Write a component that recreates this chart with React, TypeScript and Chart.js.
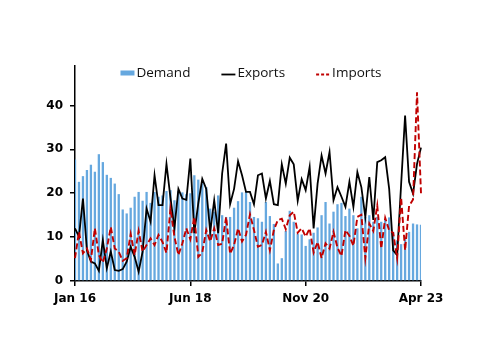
import React, { useEffect, useRef } from 'react';
import { Chart, registerables } from 'chart.js';

Chart.register(...registerables);

// ---- Data ----
const MONTH_NAMES = ['Jan', 'Feb', 'Mar', 'Apr', 'May', 'Jun', 'Jul', 'Aug', 'Sep', 'Oct', 'Nov', 'Dec'];
const START_YEAR = 2016;
const MONTH_COUNT = 88; // Jan 2016 .. Apr 2023

const categories: string[] = [];
for (let i = 0; i < MONTH_COUNT; i++) {
  const yr = START_YEAR + Math.floor(i / 12);
  categories.push(`${MONTH_NAMES[i % 12]} ${String(yr).slice(2)}`);
}

const xTickLabels = ['Jan 16', 'Jun 18', 'Nov 20', 'Apr 23'];
const yTickValues = [0, 10, 20, 30, 40];

const demand = [
  27.7, 22.6, 23.9, 25.3, 26.5, 24.9, 28.9, 27.1, 24.2, 23.5, 22.2, 19.8,
  16.3, 15.4, 16.7, 19.2, 20.3, 18.3, 20.3, 17.8, 20.3, 19.2, 19.5, 20.5,
  20.7, 18.4, 20.5, 20.2, 19.8, 20.0, 24.1, 23.1, 22.3, 21.4, 16.5, 15.8,
  19.5, 15.0, 14.6, 14.6, 16.7, 18.2, 20.2, 20.3, 18.0, 14.6, 14.3, 13.5,
  18.0, 14.8, 13.0, 4.0, 5.2, 11.4, 16.0, 13.5, 10.8, 10.6, 8.0, 9.5,
  11.0, 12.2, 15.0, 18.0, 13.1, 15.8, 17.5, 17.8, 14.8, 16.5, 15.0, 12.0,
  19.2, 14.6, 15.0, 13.5, 14.6, 13.5, 13.9, 14.5, 11.2, 9.3, 8.4, 10.1,
  11.2, 13.1, 12.9, 12.8,
];

const exportsData = [
  12.0, 10.1, 18.8, 7.0, 4.4, 4.0, 2.3, 9.3, 2.9, 6.7, 2.5, 2.3,
  2.7, 4.4, 7.8, 5.5, 2.1, 6.7, 16.5, 13.5, 24.1, 17.3, 17.3, 26.7,
  19.0, 12.0, 21.0, 18.8, 18.5, 27.9, 10.9, 17.7, 23.3, 21.0, 11.2, 18.4,
  10.9, 24.5, 31.3, 17.5, 21.0, 27.3, 24.1, 20.3, 20.3, 17.5, 24.1, 24.5,
  18.8, 22.8, 17.5, 17.3, 26.6, 22.2, 28.1, 26.6, 18.3, 23.2, 20.7, 26.0,
  12.0, 22.2, 28.6, 24.5, 29.4, 18.4, 21.4, 19.2, 16.9, 22.6, 16.9, 24.8,
  21.4, 14.6, 23.7, 13.9, 27.1, 27.5, 28.2, 21.0, 7.0, 5.9, 22.0, 37.7,
  22.6, 19.9, 26.7, 30.4,
];

const importsData = [
  5.2, 11.2, 6.3, 7.4, 4.8, 12.0, 5.9, 4.2, 7.4, 12.3, 7.4, 6.7,
  4.6, 5.2, 10.7, 5.9, 11.4, 6.7, 8.2, 9.7, 8.2, 10.5, 8.9, 6.4,
  16.5, 10.1, 5.9, 8.6, 12.0, 9.5, 14.6, 5.5, 6.5, 11.6, 9.0, 12.0,
  8.2, 8.5, 14.6, 6.2, 8.2, 12.0, 9.0, 10.5, 15.2, 11.6, 7.8, 8.2,
  11.2, 7.0, 11.6, 13.9, 14.2, 11.8, 15.0, 15.8, 11.0, 12.0, 10.1, 12.0,
  6.5, 8.9, 5.2, 8.6, 7.4, 11.2, 7.6, 5.7, 11.6, 10.3, 8.0, 14.6,
  15.1, 5.2, 13.1, 11.4, 17.2, 7.4, 14.4, 11.5, 11.0, 5.2, 19.0, 7.0,
  17.1, 18.6, 43.0, 20.0,
];

// ---- Styles ----
const BLUE = '#66A8DF';
const RED = '#C00000';
const BLACK = '#000000';
const TICK_FONT = { family: '"DejaVu Sans", sans-serif', size: 12, weight: 'bold' as const };

const legendItems = [
  { label: 'Demand', kind: 'box', color: BLUE, dash: [] as number[] },
  { label: 'Exports', kind: 'line', color: BLACK, dash: [] as number[] },
  { label: 'Imports', kind: 'line', color: RED, dash: [3, 2] },
];

const legendPlugin = {
  id: 'topLegend',
  afterDraw(chart: any) {
    const ctx: CanvasRenderingContext2D = chart.ctx;
    ctx.save();
    ctx.font = '13.5px "Open Sans", sans-serif';
    ctx.textBaseline = 'middle';
    ctx.textAlign = 'left';
    const symW = 14;
    const gap = 2;
    const spacing = 31;
    const widths = legendItems.map((it) => symW + gap + ctx.measureText(it.label).width);
    const total = widths.reduce((a, b) => a + b, 0) + spacing * (legendItems.length - 1);
    let x = 251 - total / 2;
    const yMid = 73.5;
    legendItems.forEach((it, i) => {
      if (it.kind === 'box') {
        ctx.fillStyle = it.color;
        ctx.fillRect(x, 70.5, symW, 5);
      } else {
        ctx.strokeStyle = it.color;
        ctx.lineWidth = 1.8;
        ctx.setLineDash(it.dash);
        ctx.beginPath();
        ctx.moveTo(x, 74.5);
        ctx.lineTo(x + symW, 74.5);
        ctx.stroke();
        ctx.setLineDash([]);
      }
      ctx.fillStyle = '#111';
      ctx.fillText(it.label, x + symW + gap, yMid);
      x += widths[i] + spacing;
    });
    ctx.restore();
  },
};

export default function App() {
  const canvasRef = useRef<HTMLCanvasElement | null>(null);

  useEffect(() => {
    const canvas = canvasRef.current;
    if (!canvas) return;
    const chart = new Chart(canvas, {
      type: 'bar',
      data: {
        labels: categories,
        datasets: [
          {
            type: 'line',
            label: 'Imports',
            data: importsData,
            borderColor: RED,
            backgroundColor: RED,
            borderWidth: 1.9,
            borderDash: [6, 3],
            pointRadius: 0,
            tension: 0,
            order: 1,
          } as any,
          {
            type: 'line',
            label: 'Exports',
            data: exportsData,
            borderColor: BLACK,
            backgroundColor: BLACK,
            borderWidth: 1.8,
            pointRadius: 0,
            tension: 0,
            order: 2,
          } as any,
          {
            type: 'bar',
            label: 'Demand',
            data: demand,
            backgroundColor: BLUE,
            borderWidth: 0,
            barPercentage: 0.58,
            categoryPercentage: 1,
            order: 3,
          } as any,
        ],
      },
      options: {
        animation: false,
        responsive: false,
        maintainAspectRatio: false,
        devicePixelRatio: 1,
        layout: { padding: { top: 66, right: 79, bottom: 0, left: 0 } },
        plugins: {
          legend: { display: false },
          tooltip: { enabled: false },
        },
        scales: {
          x: {
            type: 'category',
            offset: false,
            grid: {
              display: true,
              offset: false,
              drawOnChartArea: false,
              drawTicks: true,
              tickLength: 5,
              color: BLACK,
              lineWidth: 1.5,
            },
            border: { display: true, color: BLACK, width: 1.5 },
            ticks: {
              autoSkip: false,
              maxRotation: 0,
              minRotation: 0,
              padding: 6,
              color: BLACK,
              font: TICK_FONT,
              callback: (_v: any, i: number) =>
                xTickLabels.includes(categories[i]) ? categories[i] : null,
            },
            afterFit: (s: any) => {
              s.height = 72;
            },
          },
          y: {
            type: 'linear',
            min: 0,
            max: 49,
            grid: {
              display: true,
              drawOnChartArea: false,
              drawTicks: true,
              tickLength: 5,
              color: BLACK,
              lineWidth: 1.5,
            },
            border: { display: true, color: BLACK, width: 1.5 },
            ticks: {
              stepSize: 10,
              padding: 7,
              color: BLACK,
              font: TICK_FONT,
              callback: (v: any) => (yTickValues.includes(Number(v)) ? String(v) : null),
            },
            afterFit: (s: any) => {
              s.width = 75;
            },
          },
        },
      } as any,
      plugins: [legendPlugin],
    });
    return () => chart.destroy();
  }, []);

  return (
    <div style={{ position: 'fixed', left: 0, top: 0, width: 500, height: 353, background: '#fff' }}>
      <canvas ref={canvasRef} width={500} height={353} style={{ width: 500, height: 353, display: 'block' }} />
    </div>
  );
}
